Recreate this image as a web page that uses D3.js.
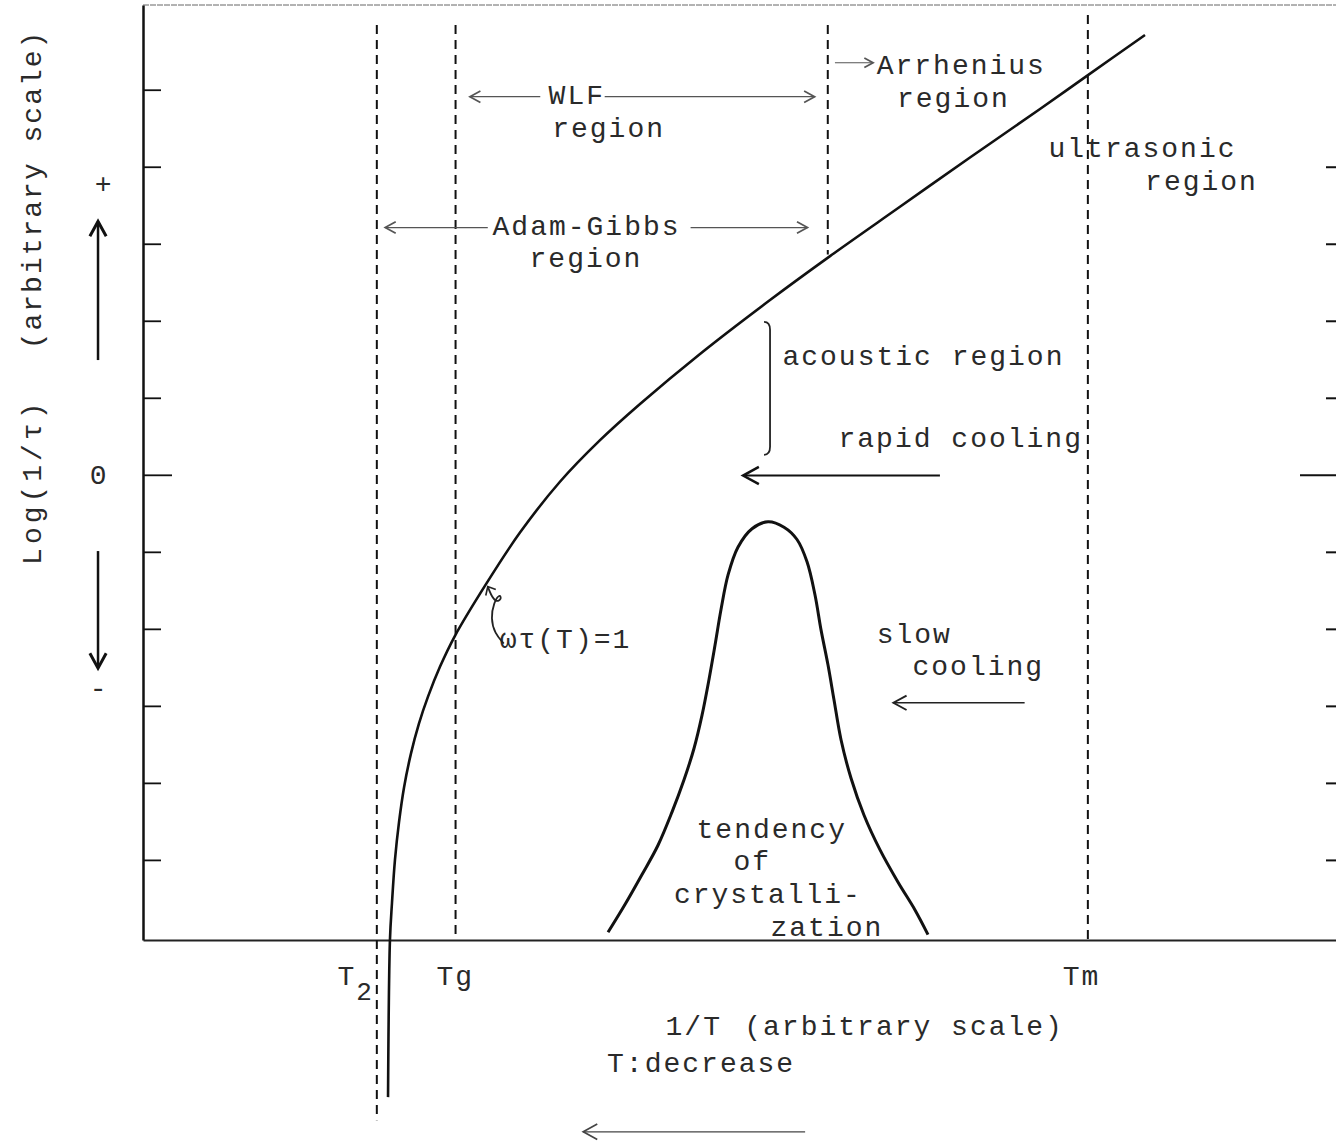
<!DOCTYPE html>
<html>
<head>
<meta charset="utf-8">
<script src="https://cdn.jsdelivr.net/npm/d3@7"></script>
<style>
body { margin: 0; background: #fff; }
</style>
</head>
<body>
<div id="grafico"></div>
<script>
// Curva log(1/tau) frente a 1/T (unidades arbitrarias).
var curvaX = [2.054, 2.070, 2.087, 2.112, 2.146, 2.188, 2.246, 2.313, 2.389, 2.490, 2.615, 2.883, 3.160, 3.495, 3.831, 4.166, 4.669, 5.256, 5.759, 6.345, 6.932, 7.519, 7.921, 8.399];
var curvaY = [-8.08, -6.04, -5.56, -5.00, -4.51, -4.06, -3.62, -3.23, -2.88, -2.49, -2.09, -1.40, -0.75, -0.09, 0.45, 0.92, 1.57, 2.27, 2.84, 3.48, 4.12, 4.75, 5.19, 5.71];

// Campana de tendencia de cristalizacion.
var campanaX = [3.898, 4.040, 4.183, 4.317, 4.434, 4.535, 4.619, 4.686, 4.744, 4.795, 4.845, 4.904, 4.987, 5.105, 5.239, 5.373, 5.482, 5.566, 5.633, 5.683, 5.742, 5.792, 5.851, 5.935, 6.044, 6.178, 6.329, 6.471, 6.580];
var campanaY = [-5.94, -5.58, -5.19, -4.81, -4.38, -3.96, -3.55, -3.12, -2.66, -2.21, -1.75, -1.30, -0.94, -0.70, -0.61, -0.68, -0.84, -1.13, -1.56, -2.01, -2.47, -2.92, -3.44, -3.94, -4.42, -4.87, -5.29, -5.65, -5.97];

// Marcas de los ejes.
var ticksY = [-5, -4, -3, -2, -1, 0, 1, 2, 3, 4, 5];
var ticksYDer = [-5, -4, -3, -2, -1, 0, 1, 2, 3, 4];

// Lineas verticales discontinuas: T2, Tg, limite Arrhenius, Tm.
var limitesX = [1.96, 2.62, 5.74, 7.92];
var limitesArriba = [5.84, 5.84, 5.84, 5.97];
var limitesAbajo = [-8.38, -6.04, 2.86, -6.04];

// Etiquetas del eje x.
var etiquetasX = ["T", "Tg", "Tm"];
var etiquetasXPos = [1.63, 2.46, 7.71];

// Margenes.
var margin = {top: 5, right: 0, bottom: 207, left: 143},
width = 1336 - margin.left - margin.right,
height = 1147 - margin.top - margin.bottom;

var svg_area = d3
.select("#grafico")
   .append("svg")
      .attr("width", width + margin.left + margin.right)
      .attr("height", height + margin.top + margin.bottom)
   .append("g")
      .attr("transform", "translate(" + margin.left + "," + margin.top + ")");

var fuente = "'Liberation Mono', 'DejaVu Sans Mono', monospace";
var colorTexto = '#2a2a2a';

var x = d3.scaleLinear().domain([0, 10]).range([0, width]);
var y = d3.scaleLinear().domain([-6.04, 6.1]).range([height, 0]);

// Borde superior
svg_area.append('line')
   .attr('x1', 0).attr('x2', width)
   .attr('y1', 0).attr('y2', 0)
   .attr('stroke', '#666')
   .attr('stroke-width', 1)
   .attr('stroke-dasharray', '6,1');

// Eje Y izquierdo
var ejeY = svg_area.append('g')
   .call(d3.axisLeft(y).tickValues(ticksY).tickSize(-18).tickSizeOuter(0).tickFormat(''));
ejeY.select('.domain').attr('stroke', '#111').attr('stroke-width', 2.5);
ejeY.selectAll('.tick line').attr('stroke', '#111').attr('stroke-width', 1.8);
ejeY.selectAll('.tick').filter(function(d){ return d === 0; }).select('line').attr('x2', 29);

// Eje Y derecho (solo marcas)
var ejeY2 = svg_area.append('g')
   .attr('transform', 'translate(' + width + ',0)')
   .call(d3.axisRight(y).tickValues(ticksYDer).tickSize(-10).tickSizeOuter(0).tickFormat(''));
ejeY2.select('.domain').remove();
ejeY2.selectAll('.tick line').attr('stroke', '#111').attr('stroke-width', 2);
ejeY2.selectAll('.tick').filter(function(d){ return d === 0; }).select('line').attr('x2', -36);

// Eje X
var ejeX = svg_area.append('g')
   .attr('transform', 'translate(0,' + height + ')')
   .call(d3.axisBottom(x).tickValues([]).tickSizeOuter(0));
ejeX.select('.domain').attr('stroke', '#222').attr('stroke-width', 2);

// Lineas discontinuas
svg_area.append('g')
   .selectAll('line')
   .data(limitesX)
   .enter()
   .append('line')
   .attr('x1', function(d){ return x(d); })
   .attr('x2', function(d){ return x(d); })
   .attr('y1', function(d, i){ return y(limitesArriba[i]); })
   .attr('y2', function(d, i){ return y(limitesAbajo[i]); })
   .attr('stroke', '#111')
   .attr('stroke-width', 2)
   .attr('stroke-dasharray', '9,6');

// Curvas (principal y campana)
var linea = d3.line()
   .x(function(d){ return x(d[0]); })
   .y(function(d){ return y(d[1]); })
   .curve(d3.curveCatmullRom.alpha(0.5));

svg_area.append('path')
   .datum(curvaX.map(function(v, i){ return [v, curvaY[i]]; }))
   .attr('fill', 'none')
   .attr('stroke', '#111')
   .attr('stroke-width', 2.6)
   .attr('d', linea);

svg_area.append('path')
   .datum(campanaX.map(function(v, i){ return [v, campanaY[i]]; }))
   .attr('fill', 'none')
   .attr('stroke', '#111')
   .attr('stroke-width', 3)
   .attr('d', linea);

// Textos
function texto(t, xv, yv, anchor) {
   return svg_area.append('text')
      .attr('x', x(xv))
      .attr('y', y(yv))
      .attr('text-anchor', anchor || 'start')
      .text(t)
      .style('fill', colorTexto)
      .style('font-family', fuente)
      .style('font-size', '28px')
      .style('letter-spacing', '2px');
}

texto('WLF', 3.40, 4.82);
texto('region', 3.43, 4.39);
texto('Arrhenius', 6.15, 5.20);
texto('region', 6.32, 4.78);
texto('ultrasonic', 7.59, 4.12);
texto('region', 8.40, 3.70);
texto('Adam-Gibbs', 2.93, 3.12);
texto('region', 3.24, 2.70);
texto('acoustic region', 5.36, 1.43);
texto('rapid cooling', 5.83, 0.36);
texto('slow', 6.15, -2.18);
texto('cooling', 6.45, -2.60);
texto('tendency', 4.64, -4.71);
texto('of', 4.95, -5.13);
texto('crystalli-', 4.45, -5.56);
texto('zation', 5.26, -5.99);
texto('\u03c9\u03c4(T)=1', 2.99, -2.25);

// Etiquetas eje x
etiquetasX.forEach(function(t, i){
   var e = texto(t, etiquetasXPos[i], -6.62);
   if (i === 0) {
      e.append('tspan').attr('dy', 15).style('font-size', '26px').text('2');
   }
});
texto('1/T', 4.38, -7.27);
texto('(arbitrary scale)', 5.04, -7.27);
texto('T:decrease', 3.89, -7.75);

// Etiquetas eje y
texto('+', -0.335, 3.66, 'middle').style('letter-spacing', '0px');
texto('0', -0.377, -0.12, 'middle').style('letter-spacing', '0px');
texto('-', -0.377, -2.88, 'middle').style('letter-spacing', '0px');

svg_area.append('text')
   .attr('transform', 'rotate(-90)')
   .attr('x', -y(-1.17))
   .attr('y', x(-0.855))
   .text('Log(1/\u03c4)')
   .style('fill', colorTexto)
   .style('font-family', fuente)
   .style('font-size', '28px')
   .style('letter-spacing', '4px');

svg_area.append('text')
   .attr('transform', 'rotate(-90)')
   .attr('text-anchor', 'end')
   .attr('x', -y(5.78))
   .attr('y', x(-0.855))
   .text('(arbitrary scale)')
   .style('fill', colorTexto)
   .style('font-family', fuente)
   .style('font-size', '28px')
   .style('letter-spacing', '2px');

// Flechas
function flecha(x1, y1, x2, y2, grosor, color, largo) {
   var px1 = x(x1), py1 = y(y1), px2 = x(x2), py2 = y(y2);
   var ang = Math.atan2(py2 - py1, px2 - px1);
   var L = largo || 14, a = 0.5;
   svg_area.append('line')
      .attr('x1', px1).attr('y1', py1)
      .attr('x2', px2).attr('y2', py2)
      .attr('stroke', color)
      .attr('stroke-width', grosor);
   svg_area.append('path')
      .attr('d', 'M' + (px2 - L * Math.cos(ang - a)) + ',' + (py2 - L * Math.sin(ang - a)) +
                 'L' + px2 + ',' + py2 +
                 'L' + (px2 - L * Math.cos(ang + a)) + ',' + (py2 - L * Math.sin(ang + a)))
      .attr('fill', 'none')
      .attr('stroke', color)
      .attr('stroke-width', grosor + 0.5);
}

flecha(3.33, 4.91, 2.74, 4.91, 1.2, '#555', 12);
flecha(3.87, 4.91, 5.63, 4.91, 1.2, '#555', 12);
flecha(5.80, 5.35, 6.12, 5.35, 1.2, '#555', 10);
flecha(2.89, 3.21, 2.03, 3.21, 1.2, '#555', 12);
flecha(4.59, 3.21, 5.57, 3.21, 1.2, '#555', 12);
flecha(6.68, -0.01, 5.03, -0.01, 2, '#111', 18);
flecha(7.39, -2.96, 6.29, -2.96, 1.4, '#222', 15);
flecha(5.55, -8.53, 3.69, -8.53, 1.2, '#444', 16);
flecha(-0.377, 1.49, -0.377, 3.29, 2.5, '#111', 17);
flecha(-0.377, -0.99, -0.377, -2.51, 2.5, '#111', 17);

// Corchete de la region acustica
var bx = x(5.256), bt = y(1.987), bb = y(0.26);
var corchete = d3.path();
corchete.moveTo(bx - 6, bt);
corchete.quadraticCurveTo(bx, bt, bx, bt + 8);
corchete.lineTo(bx, bb - 8);
corchete.quadraticCurveTo(bx, bb, bx - 6, bb);
svg_area.append('path')
   .attr('d', corchete.toString())
   .attr('fill', 'none')
   .attr('stroke', '#222')
   .attr('stroke-width', 1.8);

// Flecha rizada de wt(T)=1
var cx = x(2.89), cy = y(-1.45);
var rizo = [[16, 57], [7, 47], [3, 32], [6, 16], [12, 7], [14, 13], [8, 16], [3, 8], [0, 0]];
svg_area.append('path')
   .datum(rizo)
   .attr('d', d3.line()
      .x(function(d){ return cx + d[0]; })
      .y(function(d){ return cy + d[1]; })
      .curve(d3.curveBasis))
   .attr('fill', 'none')
   .attr('stroke', '#222')
   .attr('stroke-width', 1.8);
svg_area.append('path')
   .attr('d', 'M' + (cx - 2) + ',' + (cy + 9) + 'L' + cx + ',' + cy + 'L' + (cx + 8) + ',' + (cy + 3))
   .attr('fill', 'none')
   .attr('stroke', '#222')
   .attr('stroke-width', 1.6);
</script>
</body>
</html>
